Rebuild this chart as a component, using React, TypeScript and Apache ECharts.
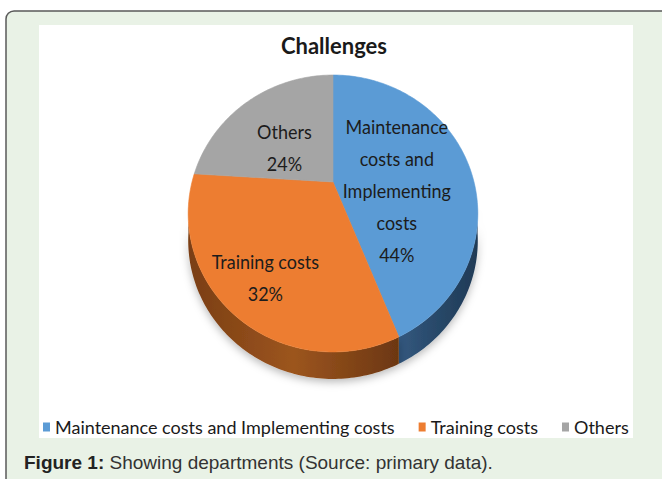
import React, { useEffect, useRef } from "react";
import * as echarts from "echarts";

const TITLE = "Challenges";
const CATEGORIES = ["Maintenance costs and Implementing costs", "Training costs", "Others"];
const VALUES = [44, 32, 24];
const SLICE_LABELS = ["Maintenance\ncosts and\nImplementing\ncosts", "Training costs", "Others"];
const CAPTION_BOLD = "Figure 1:";
const CAPTION_TEXT = " Showing departments (Source: primary data).";

const TOP_COLORS = ["#5b9bd5", "#ed7d31", "#a5a5a5"];
const SIDE_STOPS = [
  ["#33587f", "#284868", "#1f3a56"],
  ["#7a3e13", "#9c551f", "#6c3711"],
  ["#707070", "#606060", "#555555"],
];
const LABEL_SHIFT = [
  [-4, 20],
  [-22, 37],
  [-4, 9],
];
const GEO = { cx: 333, cy: 182, a: 141, b: 131.3, k: 0.2274, depth: 27, vis0: 100, vis1: 260 };
const FONT = "Lato, 'Open Sans', sans-serif";

function project(thetaDeg: number, r: number): number[] {
  const t = (thetaDeg * Math.PI) / 180;
  const u = r * Math.sin(t);
  const v = -r * Math.cos(t);
  const d = 1 - GEO.k * v;
  return [GEO.cx + (GEO.a * u) / d, GEO.cy + (GEO.b * v) / d];
}

function arcPoints(a0: number, a1: number): number[][] {
  const pts: number[][] = [];
  const n = Math.max(2, Math.ceil(a1 - a0));
  for (let i = 0; i <= n; i++) pts.push(project(a0 + ((a1 - a0) * i) / n, 1));
  return pts;
}

function makeRenderItem(idx: number) {
  return (params: any, api: any) => {
    const total = VALUES.reduce((s, v) => s + v, 0);
    const value = api.value(0) as number;
    let before = 0;
    for (let j = 0; j < idx; j++) before += VALUES[j];
    const a0 = (before / total) * 360;
    const a1 = ((before + value) / total) * 360;
    const children: any[] = [];
    const s0 = Math.max(a0, GEO.vis0);
    const s1 = Math.min(a1, GEO.vis1);
    if (s1 > s0) {
      const rim = arcPoints(s0, s1);
      const low = rim.map((p) => [p[0], p[1] + GEO.depth]).reverse();
      const stops = SIDE_STOPS[idx];
      children.push({
        type: "polygon",
        z2: 1,
        shape: { points: rim.concat(low) },
        style: {
          fill: new echarts.graphic.LinearGradient(0, 0, 1, 0, [
            { offset: 0, color: stops[0] },
            { offset: 0.5, color: stops[1] },
            { offset: 1, color: stops[2] },
          ]),
          shadowBlur: 8,
          shadowColor: "rgba(0,0,0,0.28)",
          shadowOffsetY: 3,
        },
      });
    }
    const top = [[GEO.cx, GEO.cy]].concat(arcPoints(a0, a1));
    children.push({
      type: "polygon",
      z2: 10,
      shape: { points: top },
      style: { fill: TOP_COLORS[idx], stroke: TOP_COLORS[idx], lineWidth: 0.6 },
    });
    const mid = (a0 + a1) / 2;
    const p = project(mid, 0.5);
    const pct = Math.round((value / total) * 100) + "%";
    children.push({
      type: "text",
      z2: 20,
      x: p[0] + LABEL_SHIFT[idx][0],
      y: p[1] + LABEL_SHIFT[idx][1],
      scaleY: 1.12,
      style: {
        text: SLICE_LABELS[idx] + "\n" + pct,
        align: "center",
        verticalAlign: "middle",
        fontSize: 18,
        lineHeight: 28.5,
        fontFamily: FONT,
        fill: "#1c1c1c",
      },
    });
    return { type: "group", children };
  };
}

export default function App() {
  const ref = useRef<HTMLDivElement>(null);
  useEffect(() => {
    if (!ref.current) return;
    const chart = echarts.init(ref.current, null, { renderer: "svg" });
    chart.setOption({
      animation: false,
      color: TOP_COLORS,
      title: {
        text: TITLE,
        left: 334,
        top: 34,
        textAlign: "center",
        padding: 0,
        textStyle: { fontFamily: FONT, fontSize: 22, fontWeight: "bold", color: "#1a1a1a" },
      },
      legend: {
        data: CATEGORIES,
        left: 43,
        top: 418,
        icon: "rect",
        itemWidth: 7,
        itemHeight: 9,
        itemGap: 24,
        padding: 0,
        selectedMode: false,
        textStyle: { fontFamily: FONT, fontSize: 18, color: "#1a1a1a" },
      },
      graphic: [
        {
          type: "rect",
          z: -10,
          shape: { x: 6, y: 11, width: 700, height: 500, r: [8, 0, 0, 0] },
          style: { fill: "#e9f2e6", stroke: "#5a5a5a", lineWidth: 1.5 },
        },
        {
          type: "rect",
          z: -9,
          shape: { x: 39, y: 25, width: 594, height: 413 },
          style: { fill: "#ffffff" },
        },
        {
          type: "text",
          z: -8,
          x: 24,
          y: 462,
          style: {
            text: "{b|" + CAPTION_BOLD + "}" + CAPTION_TEXT,
            verticalAlign: "middle",
            fontFamily: "'Liberation Sans', Arial, sans-serif",
            fontSize: 19,
            fill: "#333333",
            rich: {
              b: {
                fontFamily: "'Liberation Sans', Arial, sans-serif",
                fontSize: 19,
                fontWeight: "bold",
                fill: "#222222",
              },
            },
          },
        },
      ],
      series: CATEGORIES.map((name, i) => ({
        type: "custom",
        name,
        coordinateSystem: "none",
        itemStyle: { color: TOP_COLORS[i] },
        data: [{ name, value: [VALUES[i]] }],
        renderItem: makeRenderItem(i),
      })),
    });
    return () => chart.dispose();
  }, []);
  return (
    <div
      ref={ref}
      style={{ position: "fixed", left: 0, top: 0, width: 662, height: 479, background: "#ffffff" }}
    />
  );
}
